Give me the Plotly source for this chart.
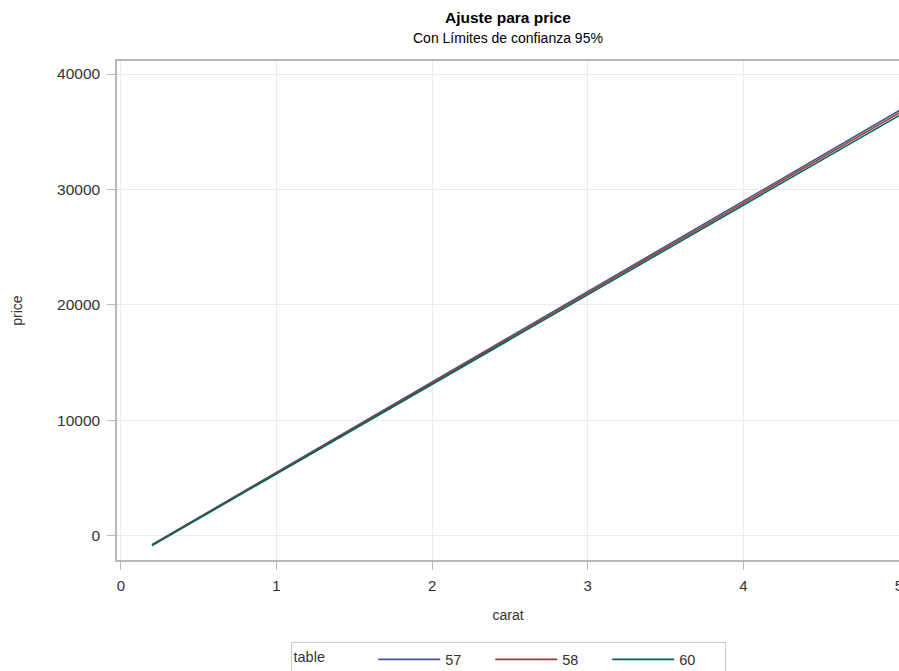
import plotly.graph_objects as go

# Fitted regression lines of price on carat, one per table value
table_values = ["57", "58", "60"]
carat_ends = [0.2, 5.01]
price_57 = [-760, 36900]
price_58 = [-790, 36700]
price_60 = [-830, 36480]
line_colors = ["#445694", "#A23A2E", "#01665E"]

x_ticks = [0, 1, 2, 3, 4, 5]
y_ticks = [0, 10000, 20000, 30000, 40000]

font_family = "Liberation Sans, Arial, sans-serif"
text_color = "#333333"
frame_color = "#B8B8B8"
grid_color = "#EBEBEB"

fig = go.Figure()
for name, prices, color in zip(table_values, [price_57, price_58, price_60], line_colors):
    fig.add_trace(go.Scatter(
        x=carat_ends, y=prices, mode="lines", name=name,
        line=dict(color=color, width=1.6),
    ))

fig.update_layout(
    width=899, height=671,
    margin=dict(l=117, r=0, t=61, b=111, autoexpand=False),
    paper_bgcolor="white", plot_bgcolor="white",
    font=dict(family=font_family, size=14, color=text_color),
    showlegend=True,
    legend=dict(
        orientation="h", x=0.5, xanchor="center",
        yref="container", y=0.0425, yanchor="top",
        bordercolor="#C8C8C8", borderwidth=1,
        title=dict(text="table" + "\u00a0" * 10, font=dict(size=14.5)),
        font=dict(size=14.5), entrywidth=40, itemwidth=62,
        tracegroupgap=0,
    ),
    annotations=[
        dict(text="<b>Ajuste para price</b>", x=0.5, y=1, xref="paper", yref="paper",
             xanchor="center", yanchor="bottom", yshift=33, showarrow=False,
             font=dict(size=15.5, color="#000000")),
        dict(text="Con Límites de confianza 95%", x=0.5, y=1, xref="paper", yref="paper",
             xanchor="center", yanchor="bottom", yshift=13, showarrow=False,
             font=dict(size=14, color="#000000")),
    ],
)

fig.update_xaxes(
    range=[-0.025, 5.0], tickvals=x_ticks, ticktext=[str(v) for v in x_ticks],
    showgrid=True, gridcolor=grid_color, gridwidth=1,
    showline=True, linecolor=frame_color, linewidth=1.5, mirror=True,
    ticks="outside", ticklen=8, tickcolor=frame_color,
    ticklabelstandoff=3, ticklabeloverflow="allow",
    zeroline=False, tickfont=dict(size=15),
    title=dict(text="carat", font=dict(size=14), standoff=17),
)
fig.update_yaxes(
    range=[-2087, 41130], tickvals=y_ticks, ticktext=[str(v) for v in y_ticks],
    showgrid=True, gridcolor=grid_color, gridwidth=1,
    showline=True, linecolor=frame_color, linewidth=1.5, mirror=True,
    ticks="outside", ticklen=8, tickcolor=frame_color,
    ticklabelstandoff=4,
    zeroline=False, tickfont=dict(size=15.5),
    title=dict(text="price", font=dict(size=14), standoff=31),
)

fig.write_html("out.html")
